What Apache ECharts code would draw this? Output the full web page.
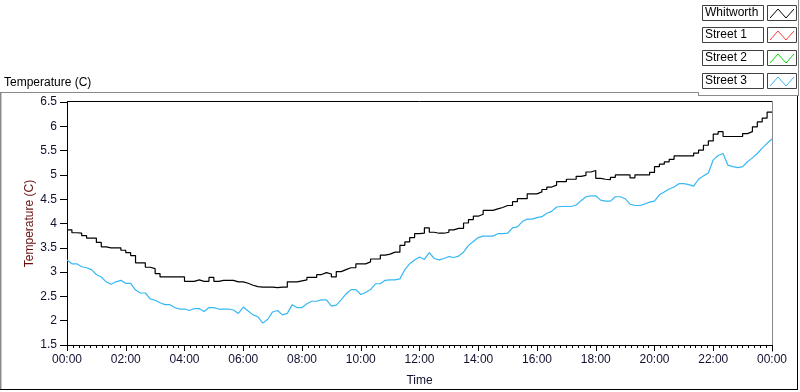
<!DOCTYPE html>
<html>
<head>
<meta charset="utf-8">
<script src="https://cdn.jsdelivr.net/npm/echarts@6/dist/echarts.min.js"></script>
<style>html,body{margin:0;padding:0;background:#fff;}#c{width:800px;height:392px;}</style>
</head>
<body>
<div id="c"></div>
<script>
// ---- data (10-minute samples, hours 0..24) ----
var stepMinutes = 10;
var seriesNames = ['Whitworth', 'Street 1', 'Street 2', 'Street 3'];
var seriesColors = ['#000000', '#ff3b3b', '#00dd00', '#36b8f5'];
var yTicks = [1.5, 2, 2.5, 3, 3.5, 4, 4.5, 5, 5.5, 6, 6.5];
var xTickHours = [0, 2, 4, 6, 8, 10, 12, 14, 16, 18, 20, 22, 24];

var whitworth = [
 3.87,3.87,3.81,3.80,3.75,3.70,3.70,3.61,3.52,3.50,3.50,3.50,3.45,3.40,3.34,3.19,3.19,3.10,3.07,2.97,
 2.90,2.90,2.90,2.90,2.90,2.81,2.81,2.84,2.81,2.81,2.89,2.81,2.83,2.83,2.83,2.80,2.80,2.77,2.73,2.70,
 2.69,2.69,2.69,2.68,2.69,2.69,2.80,2.80,2.82,2.84,2.89,2.89,2.95,2.99,2.96,2.90,3.01,3.05,3.09,3.09,
 3.17,3.17,3.21,3.27,3.27,3.35,3.37,3.41,3.41,3.55,3.62,3.71,3.79,3.80,3.91,3.82,3.80,3.80,3.82,3.87,
 3.90,3.90,4.01,4.08,4.15,4.19,4.27,4.27,4.30,4.33,4.37,4.37,4.45,4.51,4.51,4.61,4.61,4.65,4.70,4.75,
 4.79,4.86,4.86,4.91,4.91,4.97,4.99,5.06,5.09,4.93,4.91,4.90,4.95,5.00,5.00,5.00,4.94,5.00,5.00,5.00,
 5.05,5.17,5.22,5.27,5.32,5.39,5.39,5.39,5.39,5.45,5.51,5.61,5.70,5.84,5.89,5.79,5.79,5.79,5.79,5.85,
 5.89,5.99,6.09,6.17,6.29
];
var street1 = [];
var street2 = [];
var street3 = [
 3.25,3.17,3.17,3.11,3.09,3.05,2.95,2.90,2.80,2.75,2.80,2.83,2.77,2.77,2.63,2.57,2.57,2.45,2.42,2.37,
 2.33,2.33,2.27,2.24,2.24,2.21,2.25,2.25,2.19,2.27,2.27,2.24,2.24,2.24,2.22,2.15,2.28,2.20,2.12,2.08,
 1.95,2.03,2.18,2.21,2.12,2.15,2.33,2.27,2.27,2.35,2.40,2.40,2.43,2.43,2.30,2.32,2.43,2.55,2.64,2.64,
 2.54,2.58,2.64,2.76,2.76,2.83,2.84,2.84,2.86,3.05,3.17,3.25,3.31,3.26,3.40,3.28,3.25,3.28,3.32,3.30,
 3.33,3.41,3.55,3.63,3.71,3.74,3.74,3.74,3.79,3.79,3.80,3.91,3.93,4.04,4.09,4.09,4.12,4.14,4.21,4.25,
 4.34,4.35,4.35,4.35,4.38,4.47,4.55,4.57,4.57,4.48,4.46,4.46,4.55,4.55,4.51,4.40,4.37,4.37,4.40,4.44,
 4.46,4.59,4.65,4.71,4.75,4.82,4.82,4.80,4.77,4.91,4.98,5.04,5.31,5.40,5.44,5.20,5.17,5.15,5.17,5.27,
 5.35,5.44,5.55,5.65,5.74
];

function pairs(vals) {
  var out = [];
  for (var i = 0; i < vals.length; i++) out.push([i * stepMinutes / 60, vals[i]]);
  return out;
}
function pad(n) { return (n < 10 ? '0' : '') + n; }

var FONT = '"Liberation Sans", Arial, sans-serif';
var chart = echarts.init(document.getElementById('c'), null, {renderer: 'canvas'});

// legend graphic
var legendEls = [];
for (var i = 0; i < seriesNames.length; i++) {
  var y0 = 4.5 + i * 22.7;
  legendEls.push({type: 'rect', shape: {x: 702.5, y: Math.round(y0) + 0.5, width: 61, height: 15},
    style: {fill: '#fff', stroke: '#404040', lineWidth: 1}});
  legendEls.push({type: 'text', x: 705, y: Math.round(y0) + 8,
    style: {text: seriesNames[i], font: '12px ' + FONT, fill: '#000', textVerticalAlign: 'middle'}});
  legendEls.push({type: 'rect', shape: {x: 767.5, y: Math.round(y0) + 0.5, width: 29, height: 15},
    style: {fill: '#fff', stroke: '#404040', lineWidth: 1}});
  var by = Math.round(y0) + 13, ty = Math.round(y0) + 4;
  legendEls.push({type: 'polyline', shape: {points: [[770, by], [778, ty], [786, by], [794, ty]]},
    style: {stroke: seriesColors[i], lineWidth: 1, fill: null}});
}

var frameEls = [
  {type: 'line', shape: {x1: 0, y1: 92.5, x2: 698, y2: 92.5}, style: {stroke: '#8a8a8a', lineWidth: 1}},
  {type: 'line', shape: {x1: 698.5, y1: 92, x2: 698.5, y2: 96}, style: {stroke: '#8a8a8a', lineWidth: 1}},
  {type: 'line', shape: {x1: 698, y1: 95.5, x2: 799, y2: 95.5}, style: {stroke: '#8a8a8a', lineWidth: 1}},
  {type: 'line', shape: {x1: 798.5, y1: 0, x2: 798.5, y2: 96}, style: {stroke: '#8a8a8a', lineWidth: 1}},
  {type: 'line', shape: {x1: 0.5, y1: 92, x2: 0.5, y2: 390}, style: {stroke: '#8a8a8a', lineWidth: 1}},
  {type: 'line', shape: {x1: 1.5, y1: 93, x2: 1.5, y2: 389}, style: {stroke: '#c8c8c8', lineWidth: 1}},
  {type: 'line', shape: {x1: 0, y1: 389.5, x2: 798, y2: 389.5}, style: {stroke: '#000', lineWidth: 1}},
  {type: 'line', shape: {x1: 797.5, y1: 96, x2: 797.5, y2: 390}, style: {stroke: '#000', lineWidth: 1}},
  {type: 'line', shape: {x1: 67, y1: 101.5, x2: 772, y2: 101.5}, style: {stroke: '#000', lineWidth: 1}},
  {type: 'line', shape: {x1: 772.5, y1: 101, x2: 772.5, y2: 352}, style: {stroke: '#8a8a8a', lineWidth: 1}},
  {type: 'text', x: 4, y: 83, style: {text: 'Temperature (C)', font: '12px ' + FONT, fill: '#000', textVerticalAlign: 'middle'}}
];

var option = {
  animation: false,
  backgroundColor: '#fff',
  grid: {left: 67, right: 28, top: 102, bottom: 40, show: false},
  legend: {show: false, data: seriesNames},
  xAxis: {
    type: 'value', min: 0, max: 24, interval: 2,
    name: 'Time', nameLocation: 'middle', nameGap: 30, nameMoveOverlap: false,
    nameTextStyle: {color: '#101030', fontSize: 12, fontFamily: FONT},
    axisLine: {show: true, lineStyle: {color: '#000', width: 1}},
    axisTick: {show: true, length: 6, lineStyle: {color: '#000'}},
    minorTick: {show: true, splitNumber: 10, length: 3, lineStyle: {color: '#000'}},
    splitLine: {show: false}, minorSplitLine: {show: false},
    axisLabel: {color: '#101030', fontSize: 12, fontFamily: FONT, margin: 9,
      formatter: function (v) { return pad(Math.round(v) % 24) + ':00'; }}
  },
  yAxis: {
    type: 'value', min: 1.5, max: 6.5, interval: 0.5,
    name: 'Temperature (C)', nameLocation: 'middle', nameGap: 31, nameRotate: 90, nameMoveOverlap: false,
    nameTextStyle: {color: '#6a0f0f', fontSize: 12, fontFamily: FONT},
    axisLine: {show: true, lineStyle: {color: '#000', width: 1}},
    axisTick: {show: true, length: 7, lineStyle: {color: '#000'}},
    splitLine: {show: false},
    axisLabel: {color: '#101030', fontSize: 12, fontFamily: FONT, margin: 10,
      formatter: function (v) { return String(v); }}
  },
  series: [
    {name: seriesNames[0], type: 'line', data: pairs(whitworth), step: 'start', showSymbol: false, symbol: 'none',
      lineStyle: {color: seriesColors[0], width: 1.2}, itemStyle: {color: seriesColors[0]}, z: 3},
    {name: seriesNames[1], type: 'line', data: pairs(street1), showSymbol: false, symbol: 'none',
      lineStyle: {color: seriesColors[1], width: 1}},
    {name: seriesNames[2], type: 'line', data: pairs(street2), showSymbol: false, symbol: 'none',
      lineStyle: {color: seriesColors[2], width: 1}},
    {name: seriesNames[3], type: 'line', data: pairs(street3), showSymbol: false, symbol: 'none',
      lineStyle: {color: seriesColors[3], width: 1.2}, itemStyle: {color: seriesColors[3]}, z: 2}
  ],
  graphic: frameEls.concat(legendEls)
};
chart.setOption(option);
</script>
</body>
</html>
